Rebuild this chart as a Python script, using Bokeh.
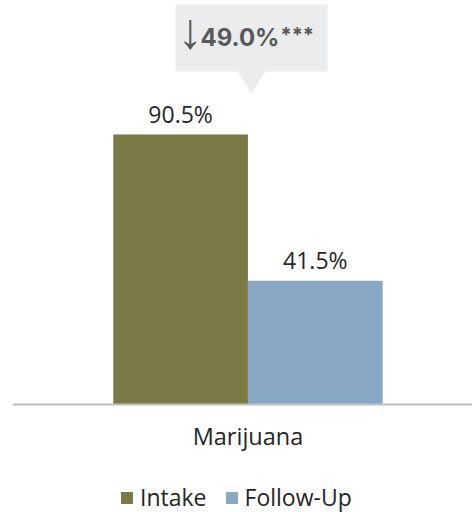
from bokeh.plotting import figure
from bokeh.models import Range1d, Legend, LegendItem, ColumnDataSource, Span
from bokeh.core.properties import value
from bokeh.embed import file_html
from bokeh.resources import INLINE

# ---- data ----
category = ["Marijuana"]
series = ["Intake", "Follow-Up"]
intake = [90.5]
follow_up = [41.5]
change_pct = ["49.0%"]
change_arrow = ["\u2193"]
significance = ["***"]
colors = ["#7a7a46", "#88a8c5"]

# ---- layout ----
xs = list(range(len(series)))
center = sum(xs) / len(xs)
values = [intake[0], follow_up[0]]

p = figure(frame_width=460, frame_height=512, output_backend="svg", toolbar_location=None,
           x_range=Range1d(-1.248, 2.167), y_range=Range1d(-36.2, 135.42),
           x_axis_location=None, y_axis_location=None,
           min_border_left=12, min_border_right=0, min_border_top=0,
           min_border_bottom=0)
p.outline_line_color = None
p.xgrid.visible = False
p.ygrid.visible = False
p.background_fill_color = None
p.border_fill_color = "white"

src = ColumnDataSource(dict(x=xs, top=values, color=colors,
                            label=[f"{v:.1f}%" for v in values], name=series))
renderers = []
for i, name in enumerate(series):
    r = p.vbar(x=[xs[i]], top=[values[i]], width=1.0, fill_color=colors[i],
               line_color=None)
    renderers.append(r)

p.text(x="x", y="top", text="label", source=src, text_align="center",
       text_baseline="alphabetic", y_offset=-21,
       text_font=value("Open Sans"), text_font_size="23px",
       text_color="#262626")

# ---- baseline axis and category label ----
p.add_layout(Span(location=0, dimension="width", line_color="#bfbfbf", line_width=2))
p.text(x=[center], y=[0], text=category, text_align="center",
       text_baseline="alphabetic", y_offset=31,
       text_font=value("Open Sans"), text_font_size="23.5px",
       text_color="#262626")

# ---- callout ----
box_bottom = 111.6
p.quad(left=center - 0.538, right=center + 0.590, bottom=box_bottom, top=134.1,
       fill_color="#ebeced", line_color=None)
p.patch(x=[center - 0.085, center + 0.137, center + 0.026],
        y=[box_bottom + 0.5, box_bottom + 0.5, 104.25],
        fill_color="#ebeced", line_color=None)
p.text(x=[center], y=[box_bottom], text=change_pct, text_align="left",
       text_baseline="alphabetic", x_offset=-47.5, y_offset=-34,
       text_font=value("Inter"), text_font_style="bold",
       text_font_size="24px", text_color="#595959")
p.text(x=[center], y=[box_bottom], text=change_arrow, text_align="center",
       text_baseline="alphabetic", x_offset=-57.5, y_offset=-41,
       text_font=value("Liberation Sans"), text_font_size="50px",
       text_color="#595959")
p.text(x=[center], y=[box_bottom], text=significance, text_align="left",
       text_baseline="alphabetic", x_offset=32.5, y_offset=-37,
       text_font=value("Inter"), text_font_style="bold",
       text_font_size="20px", text_color="#595959")

# ---- legend ----
legend = Legend(items=[LegendItem(label=s, renderers=[r]) for s, r in zip(series, renderers)],
                orientation="horizontal", location=(107, -1),
                border_line_color=None, background_fill_alpha=0,
                glyph_width=15, glyph_height=15, label_standoff=6, spacing=17,
                label_height=15,
                label_text_font="Open Sans", label_text_font_size="23px",
                label_text_color="#262626", padding=0, margin=0)
p.add_layout(legend, "center")

open("out.html", "w").write(file_html(p, INLINE))
